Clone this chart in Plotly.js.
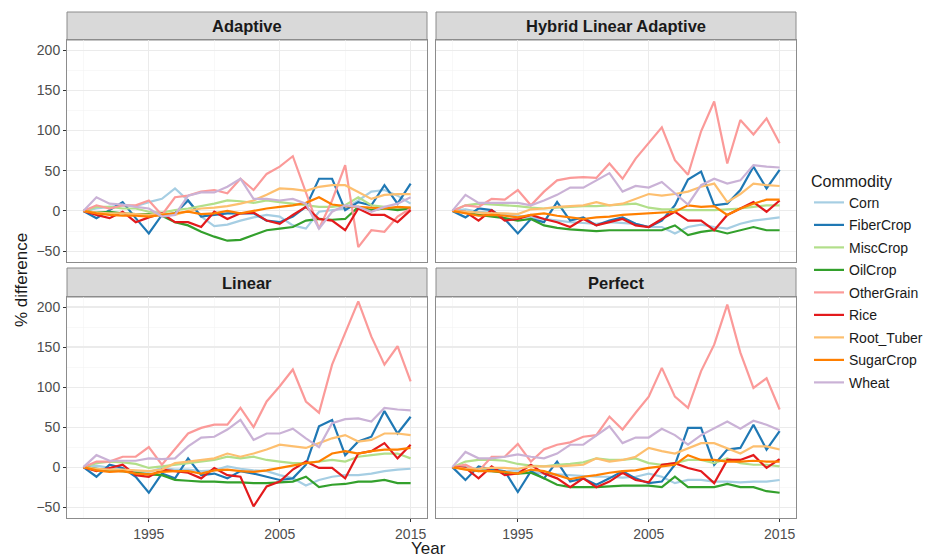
<!DOCTYPE html>
<html>
<head>
<meta charset="utf-8">
<script src="https://cdn.plot.ly/plotly-3.0.1.min.js"></script>
<style>html,body{margin:0;padding:0;background:#fff}#chart{width:932px;height:558px}</style>
</head>
<body>
<div id="chart"></div>
<script>
const years = [1990,1991,1992,1993,1994,1995,1996,1997,1998,1999,2000,2001,2002,2003,2004,2005,2006,2007,2008,2009,2010,2011,2012,2013,2014,2015];
const commodities = ["Corn","FiberCrop","MiscCrop","OilCrop","OtherGrain","Rice","Root_Tuber","SugarCrop","Wheat"];
const colors = ["#A6CEE3","#1F78B4","#B2DF8A","#33A02C","#FB9A99","#E31A1C","#FDBF6F","#FF7F00","#CAB2D6"];
const panels = ["Adaptive","Hybrid Linear Adaptive","Linear","Perfect"];
const yTicks = [-50,0,50,100,150,200];
const yMinor = [-25,25,75,125,175];
const xTicks = [1995,2005,2015];
const xMinor = [1990,2000,2010];

const adaptive = {
  Corn:       [0,3,5,7,6,11,15,28,13,-7,-19,-17,-12,-8,-5,-7,-18,-22,-1,1,3,13,24,26,19,9],
  FiberCrop:  [0,-9,1,11,-9,-28,-5,-3,13,-7,-5,-3,-3,-3,-12,-14,-7,5,40,40,1,11,7,32,9,34],
  MiscCrop:   [0,5,5,3,3,-1,-2,1,3,6,9,13,12,10,13,11,9,7,5,5,7,17,7,5,3,4],
  OilCrop:    [0,-2,-1,-3,-4,-4,-6,-14,-18,-26,-32,-37,-36,-30,-24,-22,-20,-12,-10,-11,-10,5,1,3,1,3],
  OtherGrain: [0,7,3,7,7,13,-5,17,19,24,26,22,40,26,46,55,68,24,-22,13,57,-45,-24,-26,-7,3],
  Rice:       [0,-5,-9,-1,-14,-8,-3,-14,-14,-20,-1,-10,-3,-2,-12,-16,-5,5,-10,-12,-24,3,-5,-5,-14,1],
  Root_Tuber: [0,-2,-3,-3,-4,-5,-4,-5,0,3,4,6,9,13,20,28,27,25,30,32,32,24,15,20,21,21],
  SugarCrop:  [0,-3,-5,-6,-6,-7,-5,-3,-1,-4,-3,0,-3,0,3,5,7,10,17,8,6,5,4,3,5,4],
  Wheat:      [0,17,9,8,5,3,-7,-5,19,23,23,30,40,15,15,13,15,9,-22,-1,7,5,-1,5,9,17]
};
const hybrid = {
  Corn:       [0,2,-1,-2,-4,-6,-8,-10,-12,-14,-15,-16,-14,-15,-16,-20,-20,-28,-20,-17,-20,-22,-16,-12,-10,-8],
  FiberCrop:  [0,-8,3,1,-10,-28,-10,-14,11,-12,-8,-18,-12,-8,-16,-20,-12,7,39,49,7,9,26,55,28,51],
  MiscCrop:   [0,7,9,8,7,6,4,3,4,5,6,6,7,8,9,4,2,2,1,1,1,2,3,5,7,7],
  OilCrop:    [0,-2,-5,-7,-9,-12,-10,-18,-21,-23,-24,-25,-24,-24,-24,-24,-24,-18,-30,-26,-24,-28,-24,-20,-24,-24],
  OtherGrain: [0,7,5,15,14,26,7,24,38,41,42,41,59,40,65,84,104,63,45,99,136,59,113,95,115,84],
  Rice:       [0,-1,-12,1,-12,-10,-5,-10,-14,-20,-10,-18,-14,-10,-18,-20,-10,-1,-12,-12,-24,-5,3,11,-1,13],
  Root_Tuber: [0,-1,-2,-3,-3,-4,2,3,5,6,7,11,7,9,15,21,19,21,24,30,34,11,21,34,32,31],
  SugarCrop:  [0,-3,-6,-5,-6,-8,-5,-3,-6,-8,-10,-8,-7,-5,-4,-3,-2,-1,7,5,6,-5,3,9,14,14],
  Wheat:      [0,20,10,10,10,10,7,13,20,29,29,38,47,24,31,29,36,22,8,32,40,34,38,57,55,54]
};
const linear = {
  Corn:       [0,2,-1,-3,-5,-6,-1,-3,-3,-5,-4,1,-2,-4,-5,-10,-14,-23,-16,-12,-10,-10,-8,-5,-3,-2],
  FiberCrop:  [0,-12,3,-1,-12,-32,-8,-14,11,-10,-8,-14,-5,-8,-12,-16,-14,3,51,59,15,32,38,70,42,63],
  MiscCrop:   [0,5,7,6,4,-1,1,3,5,7,9,13,11,13,9,7,5,5,7,9,7,13,15,17,17,11],
  OilCrop:    [0,-2,-4,-5,-7,-9,-10,-16,-17,-18,-18,-19,-19,-20,-20,-19,-18,-12,-25,-22,-21,-18,-18,-16,-20,-20],
  OtherGrain: [0,7,7,13,13,25,3,22,42,49,53,53,74,50,82,101,122,82,68,128,168,207,163,128,151,107],
  Rice:       [0,-5,-1,3,-10,-12,-3,-5,-7,-14,-1,-10,-12,-49,-24,-18,-3,7,-1,-1,-14,17,20,30,11,28],
  Root_Tuber: [0,-2,-3,-3,-4,-5,-3,5,7,9,11,17,13,17,22,28,26,24,30,36,40,32,34,42,42,40],
  SugarCrop:  [0,-4,-6,-5,-8,-9,-6,-5,-5,-8,-4,-3,-5,-6,-4,-1,2,5,7,17,20,17,20,22,22,24],
  Wheat:      [0,15,8,8,8,11,10,11,26,37,38,47,59,34,42,42,48,36,25,55,60,61,57,74,72,71]
};
const perfect = {
  Corn:       [0,0,-2,-3,-5,-4,-6,-8,-9,-10,-11,-12,-12,-13,-12,-8,-12,-20,-16,-16,-18,-18,-19,-18,-18,-16],
  FiberCrop:  [0,-16,1,-3,-5,-31,-5,-14,7,-18,-14,-22,-14,-5,-14,-20,-18,3,49,49,3,22,24,53,22,45],
  MiscCrop:   [0,7,9,9,8,4,2,1,3,4,6,11,9,9,11,5,3,5,9,9,5,11,5,3,3,1],
  OilCrop:    [0,-2,-4,-5,-7,-8,-7,-14,-22,-25,-25,-25,-24,-23,-23,-23,-25,-12,-25,-25,-25,-21,-25,-25,-30,-32],
  OtherGrain: [0,3,-5,13,13,29,7,22,28,31,38,40,63,47,68,88,124,88,74,120,153,203,143,99,111,72],
  Rice:       [0,-1,-14,1,-10,-8,3,-8,-14,-25,-14,-25,-18,-7,-16,-19,3,5,-1,-5,-20,9,9,15,-1,10],
  Root_Tuber: [0,-2,-2,-1,-1,-2,1,1,1,2,3,11,7,9,13,24,20,17,24,30,30,24,17,26,26,22],
  SugarCrop:  [0,-3,-5,-5,-6,-8,-3,-5,-10,-15,-12,-10,-7,-5,-4,-1,1,3,15,9,9,7,7,8,7,7],
  Wheat:      [0,19,11,11,13,16,13,11,17,28,28,40,51,30,37,37,48,40,28,40,49,57,48,58,53,46]
};
const panelData = [adaptive, hybrid, linear, perfect];

const W = 932, H = 558;
const px = v => v / W, py = v => 1 - v / H;
// panel boxes in pixels: [x0, x1, yTop, yBottom, stripTop]
const boxes = [
  [67, 427, 40, 262, 12],
  [436, 796, 40, 262, 12],
  [67, 427, 297, 518, 268],
  [436, 796, 297, 518, 268]
];
const FONT = "Liberation Sans, Arial, sans-serif";

const traces = [];
panelData.forEach((d, p) => {
  const sfx = p === 0 ? "" : String(p + 1);
  commodities.forEach((c, i) => {
    traces.push({
      type: "scatter", mode: "lines",
      x: years, y: d[c], name: c,
      xaxis: "x" + sfx, yaxis: "y" + sfx,
      line: {color: colors[i], width: 2.2},
      legendgroup: c, showlegend: p === 0,
      hoverinfo: "skip"
    });
  });
});

const layout = {
  width: W, height: H,
  margin: {l: 0, r: 0, t: 0, b: 0},
  paper_bgcolor: "#fff", plot_bgcolor: "#fff",
  font: {family: FONT, color: "#4D4D4D"},
  showlegend: true,
  legend: {
    x: px(809), xanchor: "left", y: py(166), yanchor: "top",
    font: {size: 14, color: "#1A1A1A", family: FONT},
    title: {text: "Commodity", font: {size: 16, color: "#1A1A1A", family: FONT}},
    tracegroupgap: 1.3, itemwidth: 30, bgcolor: "rgba(0,0,0,0)"
  },
  shapes: [], annotations: []
};

boxes.forEach((b, p) => {
  const sfx = p === 0 ? "" : String(p + 1);
  const bottom = p >= 2, left = p % 2 === 0;
  layout["xaxis" + sfx] = {
    domain: [px(b[0]), px(b[1])], anchor: "y" + sfx,
    range: [1988.75, 2016.25], tickmode: "array", tickvals: xTicks,
    showticklabels: bottom, ticks: bottom ? "outside" : "", ticklen: 3, tickcolor: "#333",
    tickfont: {size: 14, color: "#4D4D4D", family: FONT},
    showgrid: true, gridcolor: "#EBEBEB", gridwidth: 1.1,
    minor: {tickmode: "array", tickvals: xMinor, showgrid: true, gridcolor: "#F4F4F4", gridwidth: 0.6, ticks: ""},
    showline: true, mirror: true, linecolor: "#8C8C8C", linewidth: 1,
    zeroline: false, fixedrange: true
  };
  layout["yaxis" + sfx] = {
    domain: [py(b[3]), py(b[2])], anchor: "x" + sfx,
    range: [-63.5, 212.5], tickmode: "array", tickvals: yTicks,
    showticklabels: left, ticks: left ? "outside" : "", ticklen: 3, tickcolor: "#333",
    tickfont: {size: 14, color: "#4D4D4D", family: FONT},
    showgrid: true, gridcolor: "#EBEBEB", gridwidth: 1.1,
    minor: {tickmode: "array", tickvals: yMinor, showgrid: true, gridcolor: "#F4F4F4", gridwidth: 0.6, ticks: ""},
    showline: true, mirror: true, linecolor: "#8C8C8C", linewidth: 1,
    zeroline: false, fixedrange: true
  };
  layout.shapes.push({
    type: "rect", xref: "paper", yref: "paper",
    x0: px(b[0]), x1: px(b[1]), y0: py(b[2]), y1: py(b[4]),
    fillcolor: "#D9D9D9", line: {color: "#8C8C8C", width: 1}, layer: "below"
  });
  layout.annotations.push({
    xref: "paper", yref: "paper", x: px((b[0] + b[1]) / 2), y: py((b[2] + b[4]) / 2),
    xanchor: "center", yanchor: "middle", showarrow: false,
    text: "<b>" + panels[p] + "</b>",
    font: {size: 16.5, color: "#1A1A1A", family: FONT}
  });
});

layout.annotations.push({
  xref: "paper", yref: "paper", x: px(428), y: py(548), xanchor: "center", yanchor: "middle",
  showarrow: false, text: "Year", font: {size: 17, color: "#1A1A1A", family: FONT}
});
layout.annotations.push({
  xref: "paper", yref: "paper", x: px(21), y: py(280), xanchor: "center", yanchor: "middle",
  showarrow: false, textangle: -90, text: "% difference", font: {size: 17, color: "#1A1A1A", family: FONT}
});

Plotly.newPlot("chart", traces, layout, {displayModeBar: false, staticPlot: true});
</script>
</body>
</html>
